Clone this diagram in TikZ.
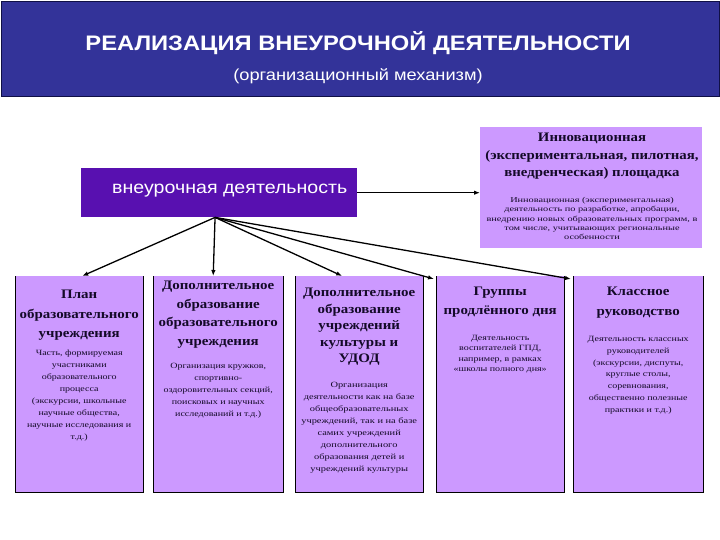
\documentclass[tikz,border=0pt]{standalone}
\usepackage{fontspec}
\setmainfont{Liberation Serif}
\newfontfamily\arialf{Liberation Sans}
\usetikzlibrary{arrows.meta,calc}
\definecolor{hdrblue}{RGB}{51,51,153}
\definecolor{hdredge}{RGB}{16,16,70}
\definecolor{vdpurple}{RGB}{88,16,176}
\definecolor{lilac}{RGB}{204,153,255}
\definecolor{inktext}{RGB}{20,10,40}
\begin{document}
\begin{tikzpicture}[x=1pt,y=-1pt,
  boxfill/.style={fill=lilac,draw=none,inner sep=0pt,anchor=north west},
  ttl/.style={font=\bfseries\fontsize{13}{19}\selectfont,align=center,anchor=north,inner sep=0pt,text=inktext},
  body/.style={font=\fontsize{8}{12}\selectfont,align=center,anchor=north,inner sep=0pt,text=inktext},
  arr/.style={-{Latex[length=6pt,width=4.5pt]},line width=1.3pt,black},
  edge/.style={black,line width=0.9pt}]
\useasboundingbox (0,0) rectangle (720,540);
\fill[white] (0,0) rectangle (720,540);
% header
\node[fill=hdrblue,draw=hdredge,line width=1.5pt,minimum width=718.5pt,minimum height=95pt,anchor=north west,inner sep=0pt] (header) at (0.75,0.75) {};
\node[font=\arialf\bfseries\fontsize{21}{24}\selectfont,text=white,inner sep=0pt,xscale=1.13] (title) at (358,43) {РЕАЛИЗАЦИЯ ВНЕУРОЧНОЙ ДЕЯТЕЛЬНОСТИ};
\node[font=\arialf\fontsize{16}{18}\selectfont,text=white,inner sep=0pt,xscale=1.14] (subtitle) at (358,76) {(организационный механизм)};
% main box
\node[fill=vdpurple,minimum width=276pt,minimum height=49pt,anchor=north west,inner sep=0pt] (vd) at (81,168) {};
\node[font=\arialf\fontsize{17.5}{20}\selectfont,text=white,anchor=west,inner sep=0pt,xscale=1.12] (vdtext) at (112,191) {внеурочная деятельность};
% innovation box
\node[boxfill,minimum width=222pt,minimum height=121pt] (innov) at (480,127) {};
\node[ttl,font=\bfseries\fontsize{13}{17.6}\selectfont,xscale=1.14] (innovt) at (592,133) {Инновационная\\(экспериментальная, пилотная,\\внедренческая) площадка};
\node[body,font=\fontsize{7.5}{9.3}\selectfont,xscale=1.37] (innovb) at (592,197) {Инновационная (экспериментальная)\\деятельность по разработке, апробации,\\внедрению новых образовательных программ, в\\том числе, учитывающих региональные\\особенности};
% bottom boxes
\node[boxfill,minimum width=128pt,minimum height=216pt] (b1) at (15,276) {};
\node[boxfill,minimum width=130pt,minimum height=216pt] (b2) at (153,276) {};
\node[boxfill,minimum width=128pt,minimum height=216pt] (b3) at (295,276) {};
\node[boxfill,minimum width=128pt,minimum height=216pt] (b4) at (436,276) {};
\node[boxfill,minimum width=130pt,minimum height=216pt] (b5) at (573,276) {};
\foreach \b in {b1,b2,b3,b4,b5}{
  \draw[edge] (\b.north west) -- (\b.south west) -- (\b.south east) -- (\b.north east);
}
% texts
\node[ttl,font=\bfseries\fontsize{13}{19.5}\selectfont,xscale=1.15] (b1t) at (b1.north |- 0,290) {План\\образовательного\\учреждения};
\node[body,xscale=1.25] (b1b) at (b1.north |- 0,350) {Часть, формируемая\\участниками\\образовательного\\процесса\\(экскурсии, школьные\\научные общества,\\научные исследования и\\т.д.)};
\node[ttl,font=\bfseries\fontsize{13}{18.5}\selectfont,xscale=1.15] (b2t) at (b2.north |- 0,281) {Дополнительное\\образование\\образовательного\\учреждения};
\node[body,xscale=1.25] (b2b) at (b2.north |- 0,363) {Организация кружков,\\спортивно-\\оздоровительных секций,\\поисковых и научных\\исследований и т.д.)};
\node[ttl,font=\bfseries\fontsize{13}{16.5}\selectfont,xscale=1.15] (b3t) at (b3.north |- 0,288) {Дополнительное\\образование\\учреждений\\культуры и\\УДОД};
\node[body,xscale=1.3] (b3b) at (b3.north |- 0,382) {Организация\\деятельности как на базе\\общеобразовательных\\учреждений, так и на базе\\самих учреждений\\дополнительного\\образования детей и\\учреждений культуры};
\node[ttl,font=\bfseries\fontsize{13}{18.5}\selectfont,xscale=1.15] (b4t) at (b4.north |- 0,287) {Группы\\продлённого дня};
\node[body,font=\fontsize{8}{10.5}\selectfont,xscale=1.25] (b4b) at (b4.north |- 0,335) {Деятельность\\воспитателей ГПД,\\например, в рамках\\«школы полного дня»};
\node[ttl,font=\bfseries\fontsize{13}{19.5}\selectfont,xscale=1.15] (b5t) at (b5.north |- 0,287) {Классное\\руководство};
\node[body,font=\fontsize{8}{11.8}\selectfont,xscale=1.25] (b5b) at (b5.north |- 0,336) {Деятельность классных\\руководителей\\(экскурсии, диспуты,\\круглые столы,\\соревнования,\\общественно полезные\\практики и т.д.)};
% arrows
\coordinate (src) at ($(vd.south west)!0.485!(vd.south east)$);
\draw[arr] (vd.east) -- (vd.east -| innov.west);
\draw[arr] (src) -- ([xshift=3pt]b1.north);
\draw[arr] (src) -- ([xshift=-5pt]b2.north);
\draw[arr] (src) -- ([xshift=-17pt]b3.north);
\draw[arr] (src) -- ([xshift=-2pt,yshift=-3pt]b4.north west);
\draw[arr] (src) -- ([xshift=-2pt,yshift=-3pt]b5.north west);
\end{tikzpicture}
\end{document}
